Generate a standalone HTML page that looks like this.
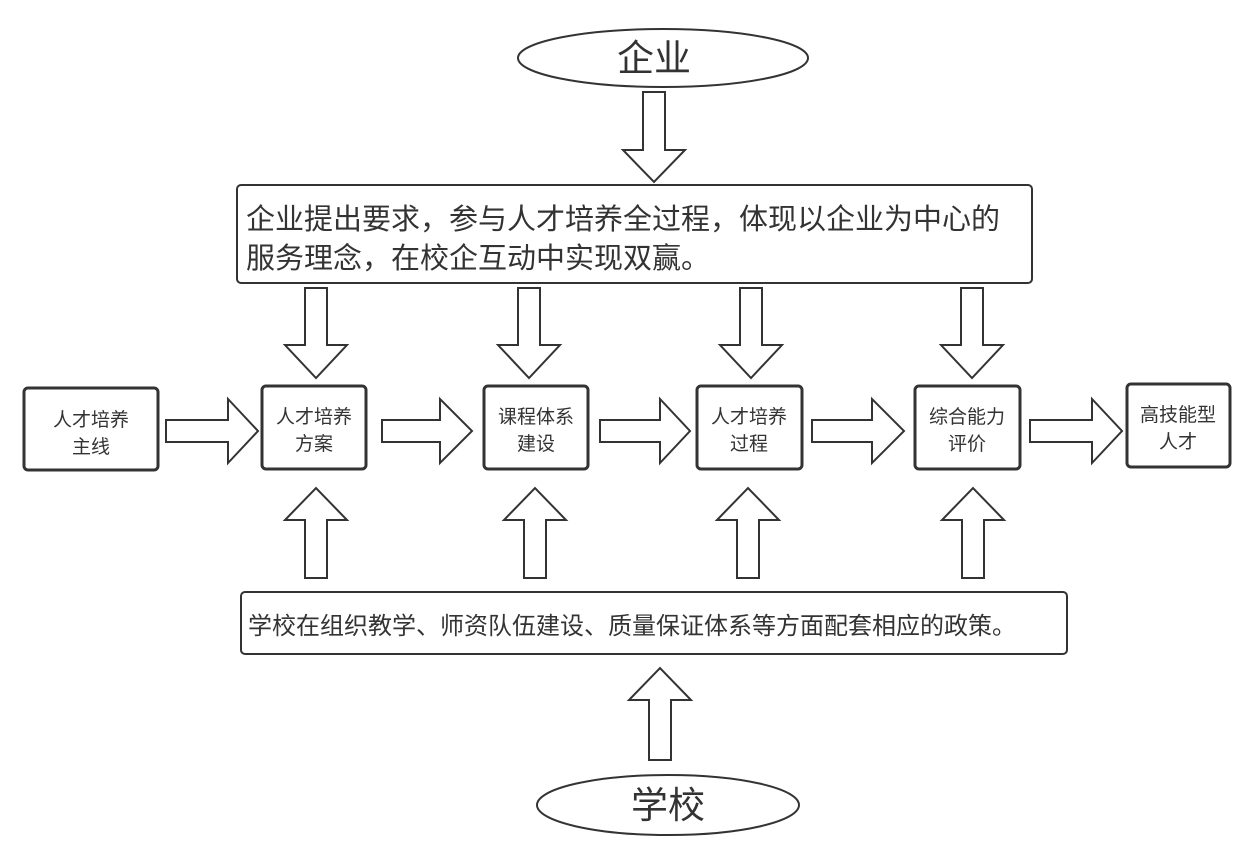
<!DOCTYPE html>
<html><head><meta charset="utf-8"><style>
html,body{margin:0;padding:0;background:#fff;}
svg{display:block;}
text{font-family:"Liberation Sans","Noto Sans CJK SC",sans-serif;fill:#333;}
</style></head><body>
<svg width="1256" height="856" viewBox="0 0 1256 856" xmlns="http://www.w3.org/2000/svg">
<g fill="#fff" stroke="#333" stroke-width="2">
<ellipse cx="663" cy="58" rx="145" ry="29"/>
<ellipse cx="668" cy="805" rx="131" ry="30"/>
<rect x="237" y="185" width="795" height="98" rx="4"/>
<rect x="241" y="592" width="826" height="62" rx="4"/>
</g>
<g fill="#fff" stroke="#333" stroke-width="3">
<rect x="24" y="388" width="134" height="82" rx="4"/>
<rect x="262" y="386" width="104" height="83" rx="4"/>
<rect x="484" y="386" width="104" height="83" rx="4"/>
<rect x="697" y="386" width="105" height="83" rx="4"/>
<rect x="915" y="386" width="105" height="83" rx="4"/>
<rect x="1127" y="384" width="103" height="83" rx="4"/>
</g>
<g fill="#fff" stroke="#333" stroke-width="2" stroke-linejoin="miter">
<polygon points="643,92 665,92 665,150 685,150 654,182 623,150 643,150"/>
<polygon points="305,288 327,288 327,345 347,345 316,378 285,345 305,345"/>
<polygon points="518,288 540,288 540,345 560,345 529,378 498,345 518,345"/>
<polygon points="740,288 762,288 762,345 782,345 751,378 720,345 740,345"/>
<polygon points="961,288 983,288 983,345 1003,345 972,378 941,345 961,345"/>
<polygon points="166,420 228,420 228,399 258,431 228,463 228,442 166,442"/>
<polygon points="382,420 440,420 440,399 472,431 440,463 440,442 382,442"/>
<polygon points="600,420 660,420 660,399 690,431 660,463 660,442 600,442"/>
<polygon points="812,420 872,420 872,399 904,431 872,463 872,442 812,442"/>
<polygon points="1030,420 1092,420 1092,399 1122,431 1092,463 1092,442 1030,442"/>
<polygon points="305,578 327,578 327,520 347,520 316,488 285,520 305,520"/>
<polygon points="524,578 546,578 546,520 566,520 535,488 504,520 524,520"/>
<polygon points="737,578 759,578 759,520 779,520 748,488 717,520 737,520"/>
<polygon points="962,578 984,578 984,520 1004,520 973,488 942,520 962,520"/>
<polygon points="649,760 671,760 671,700 691,700 660,668 629,700 649,700"/>
</g>
<text x="654" y="71" font-size="37" text-anchor="middle">企业</text>
<text x="668" y="818" font-size="37" text-anchor="middle">学校</text>
<text x="246" y="229" font-size="29">企业提出要求，参与人才培养全过程，体现以企业为中心的</text>
<text x="246" y="268" font-size="29">服务理念，在校企互动中实现双赢。</text>
<text x="248" y="634" font-size="24">学校在组织教学、师资队伍建设、质量保证体系等方面配套相应的政策。</text>
<g font-size="19" text-anchor="middle">
<text x="91" y="426">人才培养</text><text x="91" y="453">主线</text>
<text x="314" y="423">人才培养</text><text x="314" y="450">方案</text>
<text x="536" y="423">课程体系</text><text x="536" y="450">建设</text>
<text x="749" y="423">人才培养</text><text x="749" y="450">过程</text>
<text x="967" y="423">综合能力</text><text x="967" y="450">评价</text>
<text x="1178" y="421">高技能型</text><text x="1178" y="448">人才</text>
</g>
</svg>
</body></html>
